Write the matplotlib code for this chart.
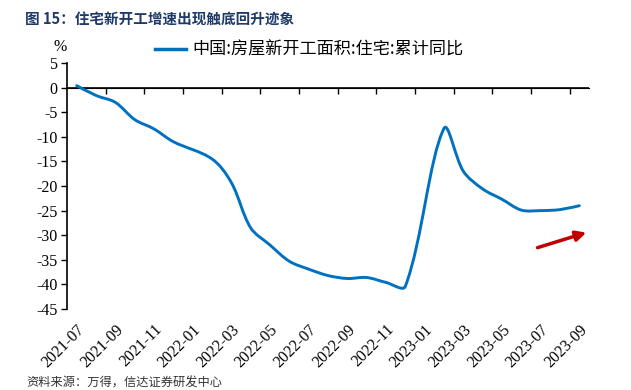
import numpy as np
import matplotlib.pyplot as plt
from matplotlib.path import Path
from matplotlib.patches import PathPatch
from matplotlib.lines import Line2D

plt.rcParams['font.family'] = ['Noto Sans CJK SC', 'DejaVu Sans']
plt.rcParams['axes.unicode_minus'] = False

# 月份(类别轴)
months = ["2021-07", "2021-08", "2021-09", "2021-10", "2021-11", "2021-12",
          "2022-01", "2022-02", "2022-03", "2022-04", "2022-05", "2022-06",
          "2022-07", "2022-08", "2022-09", "2022-10", "2022-11", "2022-12",
          "2023-01", "2023-02", "2023-03", "2023-04", "2023-05", "2023-06",
          "2023-07", "2023-08", "2023-09"]
# 中国:房屋新开工面积:住宅:累计同比 (%)，1月无数据
yoy = [0.4, -1.6, -3.0, -6.5, -8.4, -11.0,
       np.nan, -14.5, -19.3, -28.5, -32.0, -35.3,
       -36.9, -38.2, -38.8, -38.6, -39.6, -40.4,
       np.nan, -8.3, -17.0, -20.6, -22.7, -24.9,
       -25.0, -24.8, -24.0]
# 趋势箭头 (类别位置, 数值)
arrow_start = (23.7, -32.7)
arrow_end = (26.5, -29.3)

BLUE = "#0070C0"
SERIF = ["Liberation Serif", "DejaVu Serif"]
PX_X, PX_Y = 19.35, 4.92  # 每单位像素，用于按屏幕长度平滑


def smooth_path(xs, ys):
    """按段长缩放切线的贝塞尔平滑，近似 Excel 平滑线"""
    pts = np.column_stack([xs, ys])
    n = len(pts)

    def dist(a, b):
        return np.hypot((a[0] - b[0]) * PX_X, (a[1] - b[1]) * PX_Y)

    before, after = [None] * n, [None] * n
    for i in range(n):
        if i == 0 or i == n - 1:
            before[i] = after[i] = pts[i]
            continue
        t = pts[i + 1] - pts[i - 1]
        d1, d2 = dist(pts[i], pts[i - 1]), dist(pts[i + 1], pts[i])
        before[i] = pts[i] - t * d1 / (d1 + d2) / 3
        after[i] = pts[i] + t * d2 / (d1 + d2) / 3
    verts, codes = [pts[0]], [Path.MOVETO]
    for i in range(n - 1):
        verts += [after[i], before[i + 1], pts[i + 1]]
        codes += [Path.CURVE4] * 3
    return Path(verts, codes)


fig = plt.figure(figsize=(6.31, 3.90), dpi=100)
ax = fig.add_axes([67 / 631, 1 - 309 / 390, 522 / 631, 246 / 390])

x = np.arange(len(months))
vals = np.array(yoy, dtype=float)
ok = ~np.isnan(vals)
ax.add_patch(PathPatch(smooth_path(x[ok], vals[ok]), fill=False,
                       edgecolor=BLUE, lw=2.1, capstyle="round", zorder=3))

ax.set_xlim(-0.5, len(months) - 0.5)
ax.set_ylim(-45, 5)
ax.set_yticks(np.arange(-45, 6, 5))
ax.tick_params(axis="y", direction="out", length=4, width=1, pad=3)
for lab in ax.get_yticklabels():
    lab.set_fontfamily(SERIF)
    lab.set_fontsize(11.5)

# 底部标签（无刻度线）
ax.set_xticks(x[::2])
ax.set_xticklabels(months[::2], rotation=45, ha="right", rotation_mode="anchor",
                   fontfamily=SERIF, fontsize=11.5)
ax.tick_params(axis="x", length=0, pad=9)
for s in ["top", "right", "bottom"]:
    ax.spines[s].set_visible(False)
ax.spines["left"].set_linewidth(1.2)

# 零轴及刻度
zero_ax = ax.secondary_xaxis(45 / 50)
zero_ax.set_xticks(np.arange(1.5, len(months), 2))
zero_ax.set_xticklabels([])
zero_ax.tick_params(direction="in", length=4, width=1)
zero_ax.spines["bottom"].set_linewidth(1.2)
ax.axhline(0, color="black", lw=1.2, zorder=2)

ax.annotate("", xy=arrow_end, xytext=arrow_start,
            arrowprops=dict(arrowstyle="-|>,head_length=0.6,head_width=0.3",
                            color="#C00000", lw=2.5), zorder=4)

fig.text(60 / 631, 1 - 47 / 390, "%", fontfamily=SERIF, fontsize=11.5,
         ha="center", va="center")

handle = Line2D([], [], color=BLUE, lw=2.5)
ax.legend([handle], ["中国:房屋新开工面积:住宅:累计同比"], loc="center left",
          bbox_to_anchor=(155 / 631, 1 - 50 / 390), bbox_transform=fig.transFigure,
          frameon=False, fontsize=12.3, handlelength=1.8, handletextpad=0.4,
          borderpad=0, borderaxespad=0)

fig.text(25 / 631, 1 - 19 / 390, "图 15：住宅新开工增速出现触底回升迹象",
         fontsize=10.5, fontweight="bold", color="#1F3A68", ha="left", va="center")
fig.text(26 / 631, 1 - 383 / 390, "资料来源：万得，信达证券研发中心",
         fontsize=8.8, color="#333333", ha="left", va="center", style="italic")

fig.savefig("out.png", dpi=100)
